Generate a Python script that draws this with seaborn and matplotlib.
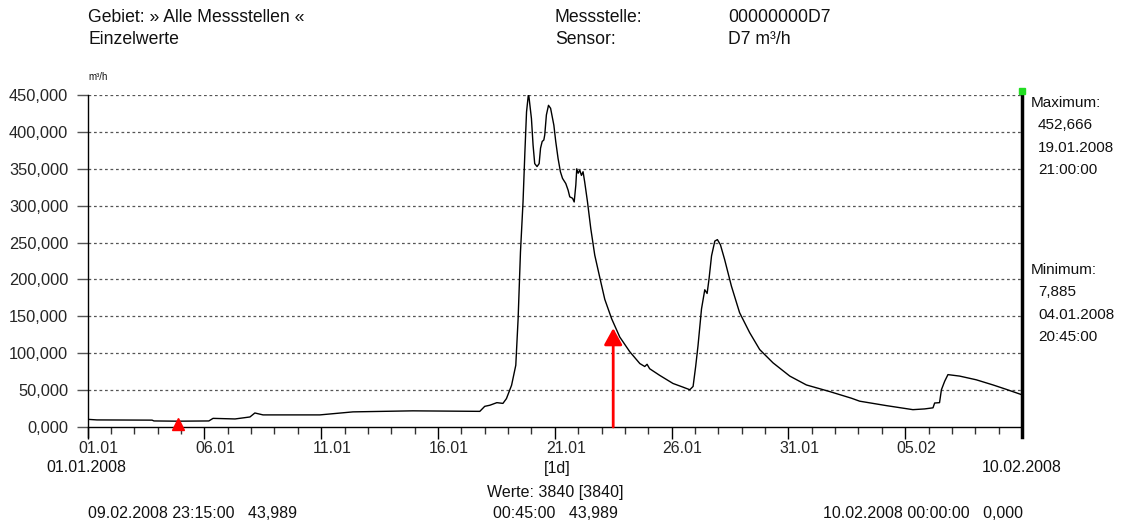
import numpy as np
import pandas as pd
import matplotlib
matplotlib.use("Agg")
import matplotlib.pyplot as plt
from matplotlib.transforms import ScaledTranslation
import seaborn as sns

# ---- data (days since 01.01.2008 00:00, flow in m³/h) ----
days = [0.00, 0.40, 2.76, 2.84, 3.86, 5.19, 5.37, 6.31, 6.95, 7.16, 7.51, 9.94, 11.36, 13.92,
        16.79, 17.00, 17.22, 17.52, 17.78, 17.93, 18.15, 18.33, 18.43, 18.53, 18.64, 18.72,
        18.79, 18.875, 19.00, 19.07, 19.14, 19.24, 19.33, 19.39, 19.46, 19.53, 19.57, 19.64,
        19.73, 19.82, 19.96, 20.04, 20.14, 20.24, 20.33, 20.47, 20.57, 20.64, 20.76, 20.83,
        20.90, 20.94, 21.00, 21.07, 21.14, 21.21, 21.28, 21.40, 21.54, 21.71, 21.93, 22.14,
        22.43, 22.78, 23.21, 23.64, 23.85, 23.95, 24.06, 24.49, 25.06, 25.49, 25.78, 25.92,
        26.03, 26.13, 26.28, 26.42, 26.52, 26.60, 26.71, 26.85, 26.96, 27.09, 27.27, 27.56,
        27.91, 28.34, 28.77, 29.34, 30.06, 30.77, 31.77, 32.70, 33.05, 34.19, 35.33, 35.83,
        36.19, 36.26, 36.47, 36.55, 36.69, 36.83, 37.33, 38.04, 38.76, 39.33, 39.97]
flow = [10400, 9600, 9300, 8200, 7885, 8200, 11700, 10900, 13600, 19000, 16400, 16400, 20500, 21900,
        21200, 28000, 29500, 33000, 32000, 38500, 56600, 83700, 147000, 237000, 305000, 373000,
        427000, 452666, 418000, 382000, 357000, 353000, 357000, 378000, 387000, 389000, 396000, 423000,
        436000, 432000, 409000, 387000, 364000, 346000, 337000, 330000, 321000, 312000, 310000, 305000,
        328000, 350000, 344000, 348000, 341000, 346000, 332000, 305000, 269000, 233000, 202000, 173000,
        147000, 122000, 102000, 86000, 82000, 85000, 79000, 70000, 59000, 54000, 50500, 55000,
        82000, 110000, 160000, 186000, 181000, 200000, 232000, 252000, 254000, 247000, 227000, 191000,
        155000, 128000, 105000, 87000, 69000, 57000, 48000, 39000, 35000, 29000, 23500, 24500,
        26000, 32500, 33000, 50500, 62000, 71000, 69000, 64000, 57000, 51000, 43989]

xtick_days = [0, 5, 10, 15, 20, 25, 30, 35]
xtick_labels = ["01.01", "06.01", "11.01", "16.01", "21.01", "26.01", "31.01", "05.02"]
ytick_values = [0, 50000, 100000, 150000, 200000, 250000, 300000, 350000, 400000, 450000]
ytick_labels = ["0,000", "50,000", "100,000", "150,000", "200,000", "250,000",
                "300,000", "350,000", "400,000", "450,000"]

cursor_day = 22.5        # red arrow cursor
cursor_value = 134000
min_day = 3.86           # minimum marker
min_value = 7885

df = pd.DataFrame({"day": days, "flow": flow})

sns.set_style("white")
plt.rcParams["font.family"] = ["Liberation Sans", "DejaVu Sans"]

W, H = 1126, 524
fig = plt.figure(figsize=(W / 100, H / 100), dpi=100)
x0, x1, y0, y1 = 87.6, 1022, 427, 95
ax = fig.add_axes([x0 / W, 1 - y0 / H, (x1 - x0) / W, (y0 - y1) / H])

sns.lineplot(data=df, x="day", y="flow", ax=ax, color="black", linewidth=1.0)

ax.set_xlim(0, 40)
ax.set_ylim(0, 450000)

# grid
for v in ytick_values[1:]:
    ax.axhline(v, color="#555555", linewidth=0.9, linestyle=(0, (2.2, 2.2)), zorder=0)

# spines
ax.spines["top"].set_visible(False)
ax.spines["left"].set_color("black")
ax.spines["left"].set_linewidth(1.0)
ax.spines["left"].set_bounds(-13500, 450000)
ax.spines["bottom"].set_color("black")
ax.spines["bottom"].set_linewidth(1.0)
ax.spines["right"].set_color("black")
ax.spines["right"].set_linewidth(2.5)
ax.spines["right"].set_bounds(-13500, 455000)
for s in ax.spines.values():
    s.set_clip_on(False)

ax.set_xticks(xtick_days)
ax.set_xticklabels(xtick_labels)
ax.set_xticks(np.arange(0, 41, 1), minor=True)
ax.set_yticks(ytick_values)
ax.set_yticklabels(ytick_labels)
ax.tick_params(axis="x", which="major", direction="out", length=8.5, width=1, color="black",
               labelsize=11.5, pad=1.5, bottom=True)
ax.tick_params(axis="x", which="minor", direction="out", length=5, width=1, color="#333333",
               bottom=True)
ax.tick_params(axis="y", direction="out", length=8, width=1, color="#555555",
               labelsize=11.8, pad=6, left=True)
ax.set_xlabel("")
ax.set_ylabel("")
shift = ScaledTranslation(11 / 100, 0, fig.dpi_scale_trans)
for lab in ax.get_xticklabels():
    lab.set_transform(lab.get_transform() + shift)

# red cursor arrow
ax.annotate("", xy=(cursor_day, cursor_value), xytext=(cursor_day, 0),
            arrowprops=dict(arrowstyle="-|>,head_length=1.0,head_width=0.55",
                            color="red", lw=2, shrinkA=0, shrinkB=0))
# red minimum marker
ax.plot([min_day], [min_value * 0.45], marker="^", color="red", markersize=8,
        clip_on=False, zorder=5)
# green maximum corner marker
ax.plot([40], [456000], marker="s", color="#22dd22", markersize=5, clip_on=False, zorder=5)


def ft(x, y, s, ha="left", size=11.5, **kw):
    fig.text(x / W, 1 - y / H, s, ha=ha, va="center", fontsize=size, color="#111111", **kw)


ft(88, 18, "Gebiet: » Alle Messstellen «", size=12.7)
ft(88, 40, "Einzelwerte", size=12.7)
ft(555, 18, "Messstelle:", size=12.7)
ft(555, 40, "Sensor:", size=12.7)
ft(728, 18, "00000000D7", size=12.7)
ft(728, 40, "D7 m³/h", size=12.7)
ft(88, 77, "m³/h", size=7)

ft(1031, 103, "Maximum:", size=11)
ft(1038, 125, "452,666", size=11)
ft(1038, 148, "19.01.2008", size=11)
ft(1038, 170, "21:00:00", size=11)
ft(1031, 270, "Minimum:", size=11)
ft(1038, 292, "7,885", size=11)
ft(1038, 315, "04.01.2008", size=11)
ft(1038, 337, "20:45:00", size=11)

ft(86, 468, "01.01.2008", ha="center")
ft(557, 468, "[1d]", ha="center")
ft(1022, 468, "10.02.2008", ha="center")
ft(555, 492, "Werte: 3840 [3840]", ha="center")
ft(88, 514, "09.02.2008 23:15:00   43,989")
ft(493, 514, "00:45:00   43,989")
ft(1023, 514, "10.02.2008 00:00:00   0,000", ha="right")

fig.savefig("out.png", dpi=100, facecolor="white")
